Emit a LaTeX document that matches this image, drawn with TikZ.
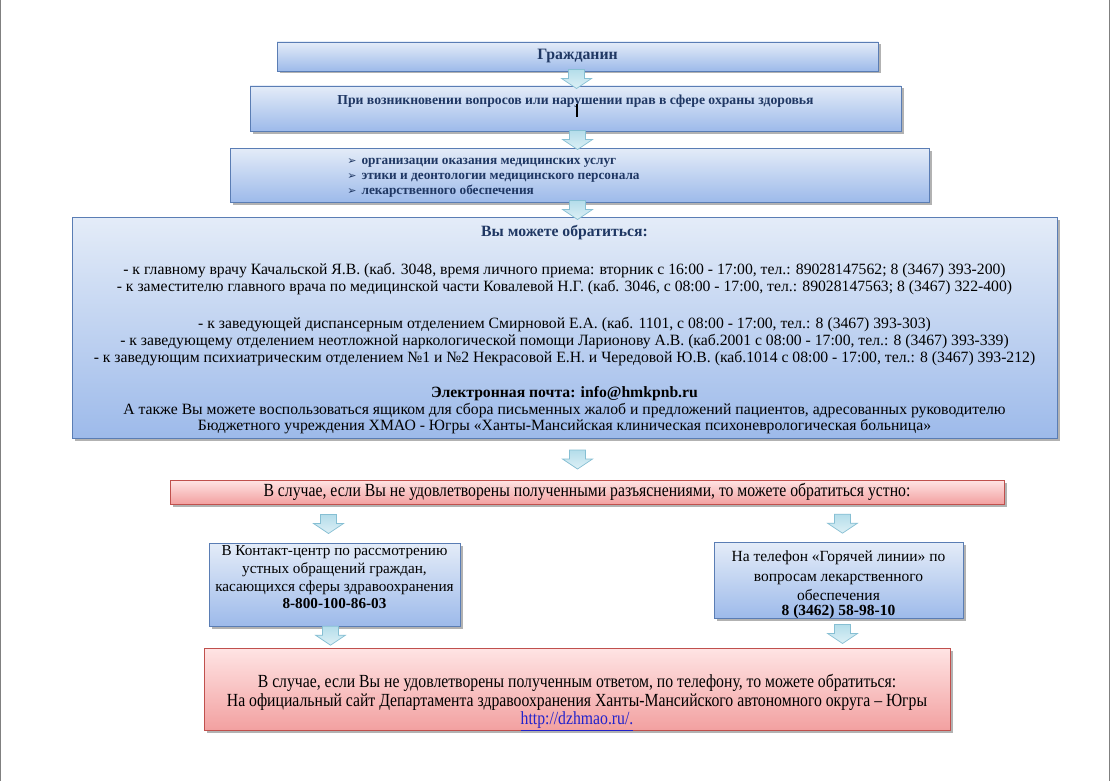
\documentclass[tikz,border=0pt]{standalone}
\usepackage{fontspec}
\setmainfont{Liberation Serif}
\newfontfamily\narrowserif[FakeStretch=0.85]{Liberation Serif}
\newfontfamily\dingfont{DejaVu Sans}
\usetikzlibrary{calc,shadows}
\definecolor{navy}{HTML}{1F3763}
\definecolor{blueedge}{HTML}{5A7DB4}
\definecolor{bluetop}{HTML}{E4ECF8}
\definecolor{bluebot}{HTML}{9DBAEA}
\definecolor{rededge}{HTML}{C0504D}
\definecolor{redtop}{HTML}{FFE4E4}
\definecolor{redbot}{HTML}{F2A0A0}
\definecolor{arrowedge}{HTML}{86BFD3}
\definecolor{arrowtop}{HTML}{B4DDEA}
\definecolor{arrowbot}{HTML}{DDF0F6}
\definecolor{linkblue}{HTML}{2222CC}
\newcommand\listmark{{\dingfont\fontsize{11}{11}\selectfont\char"27A2}\hspace{5pt}}
\begin{document}
\begin{tikzpicture}[x=1pt,y=-1pt,line width=0.7pt,
  every node/.style={inner sep=0pt,align=center,font=\fontsize{15.7}{16.9}\selectfont},
  bluebox/.style={draw=blueedge,top color=bluetop,bottom color=bluebot,
    drop shadow={shadow xshift=2.5pt,shadow yshift=-2.5pt,fill=black,opacity=0.3}},
  redbox/.style={draw=rededge,top color=redtop,bottom color=redbot,
    drop shadow={shadow xshift=2.5pt,shadow yshift=-2.5pt,fill=black,opacity=0.3},
    font=\narrowserif\fontsize{18.5}{18.7}\selectfont},
  headtext/.style={text=navy,font=\bfseries\fontsize{15.8}{17}\selectfont},
  pics/downarrow/.style={code={
    \draw[draw=arrowedge,top color=arrowtop,bottom color=arrowbot]
      (-8,-9) -- (8,-9) -- (8,0) -- (15,0) -- (0,10) -- (-15,0) -- (-8,0) -- cycle;}}]
\useasboundingbox (0,0) rectangle (1110,781);
\fill[white] (0,0) rectangle (1110,781);
\draw[gray,line width=1pt] (0.5,0) -- (0.5,781);
\draw[gray,line width=1pt] (1109,0) -- (1109,781);
\node[bluebox,headtext,minimum width=601,minimum height=29] (citizen) at (577.5,56.5) {Гражданин};
\node[bluebox,minimum width=651,minimum height=45,text=navy,
  font=\bfseries\fontsize{13.7}{13}\selectfont] (issue) at (575.5,108.5)
  {При возникновении вопросов или нарушении прав в сфере охраны здоровья\\ \strut};
\node[bluebox,minimum width=699,minimum height=54] (list) at (579.5,175) {};
\node[anchor=west,align=left,text=navy,font=\bfseries\fontsize{13.3}{15}\selectfont] (listtext) at (347,177.5)
  {\listmark организации оказания медицинских услуг\\
   \listmark этики и деонтологии медицинского персонала\\
   \listmark лекарственного обеспечения};
\node[bluebox,minimum width=985,minimum height=221] (info) at (564.5,327.5)
  {\rule{0pt}{16pt}{\color{navy}\bfseries Вы можете обратиться:}\\[21pt]
   - к главному врачу Качальской Я.В. (каб. 3048, время личного приема: вторник с 16:00 - 17:00, тел.: 89028147562; 8 (3467) 393-200)\\
   - к заместителю главного врача по медицинской части Ковалевой Н.Г. (каб. 3046, с 08:00 - 17:00, тел.: 89028147563; 8 (3467) 322-400)\\[20pt]
   - к заведующей диспансерным отделением Смирновой Е.А. (каб. 1101, с 08:00 - 17:00, тел.: 8 (3467) 393-303)\\
   - к заведующему отделением неотложной наркологической помощи Ларионову А.В. (каб.2001 с 08:00 - 17:00, тел.: 8 (3467) 393-339)\\
   - к заведующим психиатрическим отделением №1 и №2 Некрасовой Е.Н. и Чередовой Ю.В. (каб.1014 с 08:00 - 17:00, тел.: 8 (3467) 393-212)\\[18pt]
   {\bfseries Электронная почта: info@hmkpnb.ru}\\
   А также Вы можете воспользоваться ящиком для сбора письменных жалоб и предложений пациентов, адресованных руководителю\\
   Бюджетного учреждения ХМАО - Югры «Ханты-Мансийская клиническая психоневрологическая больница»};
\node[redbox,minimum width=834,minimum height=24] (ask) at (587,492)
  {В случае, если Вы не удовлетворены полученными разъяснениями, то можете обратиться устно:};
\node[bluebox,minimum width=251,minimum height=83,font=\fontsize{15.2}{18}\selectfont] (contact) at (334.5,584.5)
  {В Контакт-центр по рассмотрению\\ устных обращений граждан,\\ касающихся сферы здравоохранения\\[-1pt]
   \textbf{8-800-100-86-03}\rule[-14pt]{0pt}{1pt}};
\node[bluebox,minimum width=249,minimum height=75,font=\fontsize{15.5}{20}\selectfont] (hotline) at (838.5,580.5)
  {\rule{0pt}{19pt}На телефон «Горячей линии» по\\ вопросам лекарственного\\[-1pt] обеспечения\\[-5pt] \textbf{8 (3462) 58-98-10}};
\node[redbox,minimum width=746,minimum height=77] (final) at (577,689.5)
  {\rule{0pt}{39pt}В случае, если Вы не удовлетворены полученным ответом, по телефону, то можете обратиться:\\
   На официальный сайт Департамента здравоохранения Ханты-Мансийского автономного округа – Югры\\
   {\color{linkblue}\underline{http://dzhmao.ru/.}}};
\draw[line width=1.4pt] (577,104) -- (577,117);
\pic at ($(citizen.south)!.5!(issue.north)$) {downarrow};
\pic at ($(issue.south)!.5!(list.north)$) {downarrow};
\pic at ($(list.south -| citizen)!.5!(info.north -| citizen)$) {downarrow};
\pic at ($(info.south -| citizen)!.5!(ask.north -| citizen)$) {downarrow};
\pic at ([xshift=-6pt]$(ask.south -| contact)!.5!(contact.north)$) {downarrow};
\pic at ([xshift=4pt]$(ask.south -| hotline)!.5!(hotline.north)$) {downarrow};
\pic at ([xshift=-4pt,yshift=2pt]$(contact.south)!.5!(final.north -| contact)$) {downarrow};
\pic at ([xshift=4pt]$(hotline.south)!.5!(final.north -| hotline)$) {downarrow};
\end{tikzpicture}
\end{document}
